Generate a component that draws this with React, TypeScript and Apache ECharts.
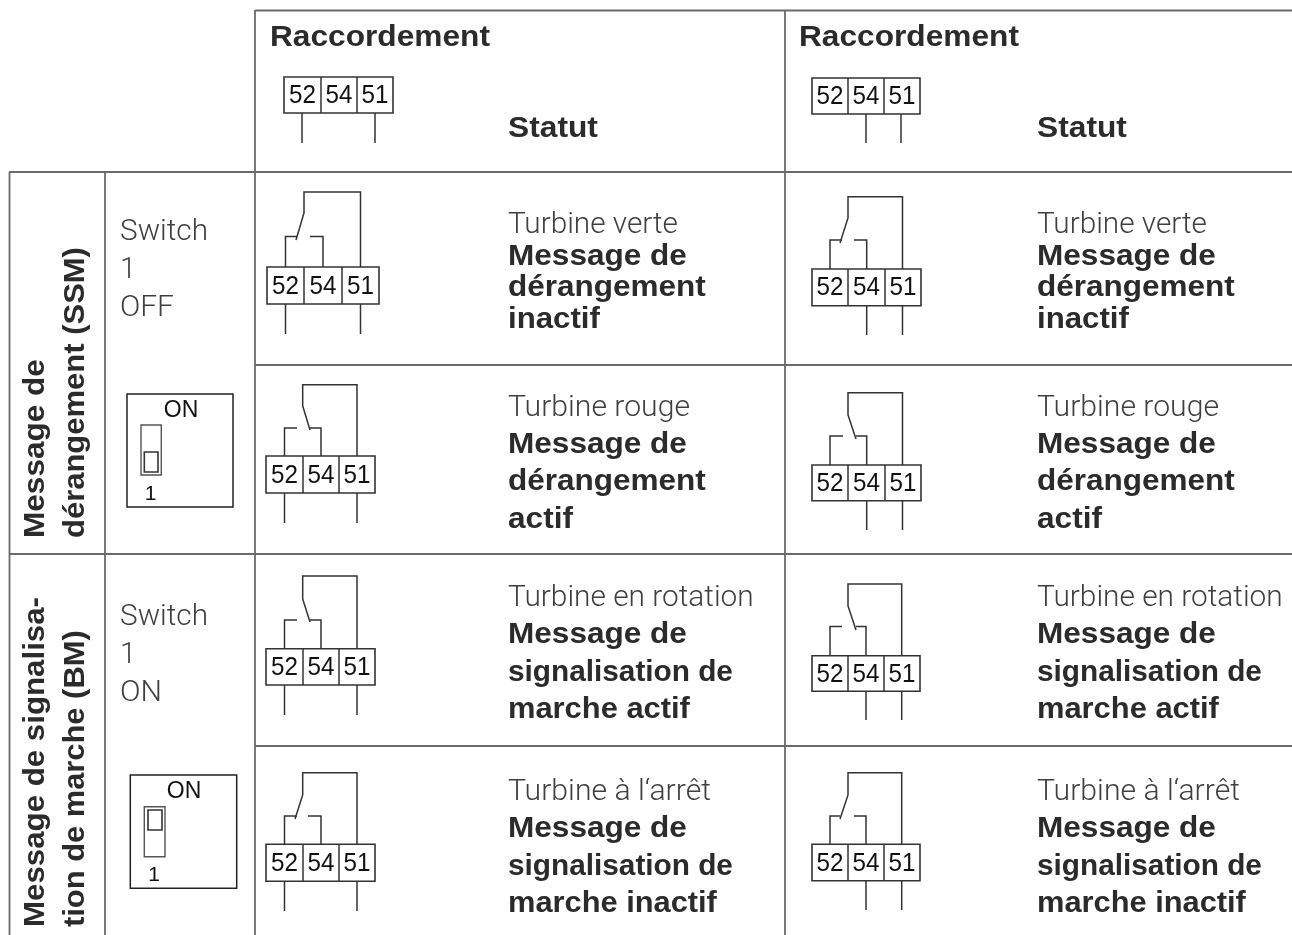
import React, { useEffect, useRef } from "react";
import * as echarts from "echarts";

const headerTitle = "Raccordement";
const statusTitle = "Statut";
const terminalLabels = ["52", "54", "51"];
const stateLabels = ["Turbine verte", "Turbine rouge", "Turbine en rotation", "Turbine à l‘arrêt"];
const messageLines = [
  ["Message de", "dérangement", "inactif"],
  ["Message de", "dérangement", "actif"],
  ["Message de", "signalisation de", "marche actif"],
  ["Message de", "signalisation de", "marche inactif"],
];
const groupLabels = [
  ["Message de", "dérangement (SSM)"],
  ["Message de signalisa-", "tion de marche (BM)"],
];
const switchLines = [
  ["Switch", "1", "OFF"],
  ["Switch", "1", "ON"],
];

const FONT = "'Liberation Sans', Arial, sans-serif";
const LIGHT_FONT = "Roboto, 'Liberation Sans', sans-serif";
const BOLD_COLOR = "#2b2b2b";
const LIGHT_COLOR = "#3f3f3f";
const LINE_COLOR = "#333333";
const GRID_COLOR = "#6a6a6a";

// printed widths of the strings, used to fit the installed fonts to the reference's typeface
const printedWidth: Record<string, number> = {
  Raccordement: 220,
  Statut: 90,
  "Message de": 179,
  "dérangement": 198,
  inactif: 92,
  actif: 65,
  "signalisation de": 225,
  "marche actif": 182,
  "marche inactif": 209,
  "dérangement (SSM)": 291,
  "Message de signalisa-": 330,
  "tion de marche (BM)": 297,
  "Turbine verte": 170,
  "Turbine rouge": 182,
  "Turbine en rotation": 246,
  "Turbine à l‘arrêt": 203,
  Switch: 88,
  OFF: 54,
  ON: 42,
};
const measure = document.createElement("canvas").getContext("2d")!;
function fit(t: string, font: string) {
  const target = printedWidth[t];
  if (!target) return 1;
  measure.font = font;
  const w = measure.measureText(t).width;
  return w > 0 ? target / w : 1;
}

function line(x1: number, y1: number, x2: number, y2: number, color = LINE_COLOR, width = 1.5) {
  return { type: "line", shape: { x1, y1, x2, y2 }, style: { stroke: color, lineWidth: width }, silent: true };
}
function poly(points: number[][], width = 1.5) {
  return { type: "polyline", shape: { points }, style: { stroke: LINE_COLOR, lineWidth: width, fill: "none" }, silent: true };
}
function text(t: string, x: number, y: number, o: any = {}) {
  return {
    type: "text",
    x,
    y,
    scaleX: o.scale ?? 1,
    rotation: o.rotation ?? 0,
    silent: true,
    style: {
      text: t,
      fontFamily: o.family ?? FONT,
      fontSize: o.size ?? 28,
      fontWeight: o.weight ?? "normal",
      fill: o.color ?? LIGHT_COLOR,
      align: o.align ?? "left",
      verticalAlign: "middle",
    },
  };
}
const BOLD_SIZE = 29;
const LIGHT_SIZE = 29;
const bold = (t: string, x: number, y: number, rotation = 0) =>
  text(t, x, y, { weight: "bold", color: BOLD_COLOR, size: BOLD_SIZE, rotation, scale: fit(t, `bold ${BOLD_SIZE}px 'Liberation Sans'`) });
const light = (t: string, x: number, y: number) =>
  text(t, x, y + 1.5, { family: LIGHT_FONT, weight: 300, size: LIGHT_SIZE, scale: fit(t, `300 ${LIGHT_SIZE}px Roboto`) });

function terminalBlock(x: number[], y0: number, y1: number, leads: number[], leadEnd: number) {
  const els: any[] = [
    { type: "rect", shape: { x: x[0], y: y0, width: x[3] - x[0], height: y1 - y0 }, style: { fill: "#fff", stroke: LINE_COLOR, lineWidth: 1.6 }, silent: true },
    line(x[1], y0, x[1], y1),
    line(x[2], y0, x[2], y1),
  ];
  terminalLabels.forEach((lab, i) => {
    els.push(text(lab, (x[i] + x[i + 1]) / 2, (y0 + y1) / 2 - 0.5, { size: 25, align: "center", color: "#111111", scale: 0.97 }));
  });
  leads.forEach((lx) => els.push(line(lx, y1, lx, leadEnd)));
  return els;
}

function relay(d: any) {
  const [lx, rx, wx, tx] = d.x; // left contact, right contact, common wire, return wire
  return [
    poly([[tx, d.boxY], [tx, d.topY], [wx, d.topY], [wx, d.bendY], [d.tip[0], d.tip[1]]]),
    poly([[lx, d.boxY], [lx, d.contactY], [d.leftEnd, d.contactY]]),
    poly([[d.rightStart, d.contactY], [rx, d.contactY], [rx, d.boxY]]),
  ];
}

function dip(b: number[], on: number[], slider: number[], inner: number[], one: number[]) {
  return [
    { type: "rect", shape: { x: b[0], y: b[1], width: b[2] - b[0], height: b[3] - b[1] }, style: { fill: "#fff", stroke: "#222", lineWidth: 1.5 }, silent: true },
    text("ON", on[0], on[1], { size: 23, align: "center", color: "#111" }),
    { type: "rect", shape: { x: slider[0], y: slider[1], width: slider[2] - slider[0], height: slider[3] - slider[1] }, style: { fill: "#fff", stroke: "#555", lineWidth: 1.4 }, silent: true },
    { type: "rect", shape: { x: inner[0], y: inner[1], width: inner[2] - inner[0], height: inner[3] - inner[1] }, style: { fill: "#fff", stroke: "#333", lineWidth: 1.6 }, silent: true },
    text("1", one[0], one[1], { size: 21, align: "center", color: "#111" }),
  ];
}

function buildGraphic() {
  const els: any[] = [];
  const G = 1.8;
  els.push(line(255, 10.5, 1292, 10.5, GRID_COLOR, G));
  els.push(line(9, 172, 1292, 172, GRID_COLOR, G));
  els.push(line(255, 365, 1292, 365, GRID_COLOR, G));
  els.push(line(9, 554, 1292, 554, GRID_COLOR, G));
  els.push(line(255, 746, 1292, 746, GRID_COLOR, G));
  els.push(line(9.5, 172, 9.5, 935, GRID_COLOR, G));
  els.push(line(105, 172, 105, 935, GRID_COLOR, G));
  els.push(line(255, 10, 255, 935, GRID_COLOR, G));
  els.push(line(785, 10, 785, 935, GRID_COLOR, G));

  // headers
  [270, 799].forEach((x) => els.push(bold(headerTitle, x, 36)));
  [508, 1037].forEach((x) => els.push(bold(statusTitle, x, 126.5)));
  els.push(...terminalBlock([284, 321, 357, 393], 77, 113, [302, 375], 143));
  els.push(...terminalBlock([812, 848, 884, 920], 78, 114, [866, 901], 143));

  // row texts
  const ys = [
    [221.5, 254.5, 285.5, 317.5],
    [404.5, 442.5, 479.5, 517.5],
    [594.5, 632.5, 670.5, 707.5],
    [788.5, 826.5, 864.5, 901.5],
  ];
  [508, 1037].forEach((x) => {
    ys.forEach((row, i) => {
      els.push(light(stateLabels[i], x, row[0]));
      messageLines[i].forEach((t, j) => els.push(bold(t, x, row[j + 1])));
    });
  });

  // left column relays
  const L = [266, 303, 339, 375];
  els.push(...relay({ x: [285.5, 323, 304, 360.5], topY: 192, boxY: 267, bendY: 213, tip: [296, 240], contactY: 236.5, leftEnd: 297, rightStart: 310 }));
  els.push(...terminalBlock([267, 304, 342, 379], 267, 304, [285.5, 360.5], 334));
  els.push(...relay({ x: [284.5, 321, 302.7, 357], topY: 384.7, boxY: 456, bendY: 406, tip: [310, 430], contactY: 428, leftEnd: 297, rightStart: 310 }));
  els.push(...terminalBlock(L, 456, 493, [284.5, 357], 523));
  els.push(...relay({ x: [284.5, 321, 302.7, 357], topY: 576, boxY: 648.7, bendY: 599, tip: [310, 622], contactY: 620, leftEnd: 297, rightStart: 310 }));
  els.push(...terminalBlock(L, 648.7, 685, [284.5, 357], 715));
  els.push(...relay({ x: [284.5, 321, 302.7, 357], topY: 772.7, boxY: 844.3, bendY: 795, tip: [295, 819], contactY: 816, leftEnd: 297, rightStart: 308 }));
  els.push(...terminalBlock(L, 844.3, 881.3, [284.5, 357], 911));

  // right column relays
  const R = [812, 848, 885, 921];
  els.push(...relay({ x: [830, 866.7, 848, 902.5], topY: 196.7, boxY: 269, bendY: 218, tip: [840, 243], contactY: 240, leftEnd: 842, rightStart: 854 }));
  els.push(...terminalBlock(R, 269, 305.7, [866.7, 902.5], 335));
  els.push(...relay({ x: [830, 866.7, 848, 902.5], topY: 392.7, boxY: 465, bendY: 415, tip: [856, 439], contactY: 436, leftEnd: 843, rightStart: 856 }));
  els.push(...terminalBlock(R, 465, 500.7, [866.7, 902.5], 530));
  els.push(...relay({ x: [830, 866, 848, 901.7], topY: 584, boxY: 655.7, bendY: 606, tip: [856, 630], contactY: 626.5, leftEnd: 842, rightStart: 856 }));
  els.push(...terminalBlock([812, 848, 884, 920], 655.7, 691.3, [866, 901.7], 720));
  els.push(...relay({ x: [830, 866, 848, 901.7], topY: 772.7, boxY: 844.3, bendY: 795, tip: [840, 819], contactY: 816, leftEnd: 840, rightStart: 854 }));
  els.push(...terminalBlock([812, 848, 884, 920], 844.3, 880.7, [866, 901.7], 910));

  // switch column
  switchLines.forEach((lines, i) => {
    const y0 = i === 0 ? 228.5 : 613.5;
    lines.forEach((t, j) => els.push(light(t, 120, y0 + j * 38)));
  });
  els.push(...dip([127, 394, 233, 507], [181, 409], [141, 425, 161.3, 475], [144.3, 452, 158, 472], [150.7, 492]));
  els.push(...dip([130.3, 775, 236.7, 888.3], [184, 790], [144.3, 806.7, 165, 856.7], [148, 810, 162, 830], [154, 873]));

  // rotated group labels
  const rot = Math.PI / 2;
  const groupY = [538, 927];
  groupLabels.forEach((lines, i) => {
    lines.forEach((t, j) => {
      els.push(bold(t, j === 0 ? 33.5 : 73.5, groupY[i], rot));
    });
  });
  return els;
}

export default function App() {
  const ref = useRef<HTMLDivElement>(null);
  useEffect(() => {
    document.body.style.margin = "0";
    const chart = echarts.init(ref.current!, undefined, { renderer: "svg" });
    chart.setOption({ animation: false, backgroundColor: "#ffffff", graphic: { elements: buildGraphic() } });
    return () => chart.dispose();
  }, []);
  return <div ref={ref} style={{ width: 1292, height: 935, filter: "blur(0.35px)" }} />;
}
